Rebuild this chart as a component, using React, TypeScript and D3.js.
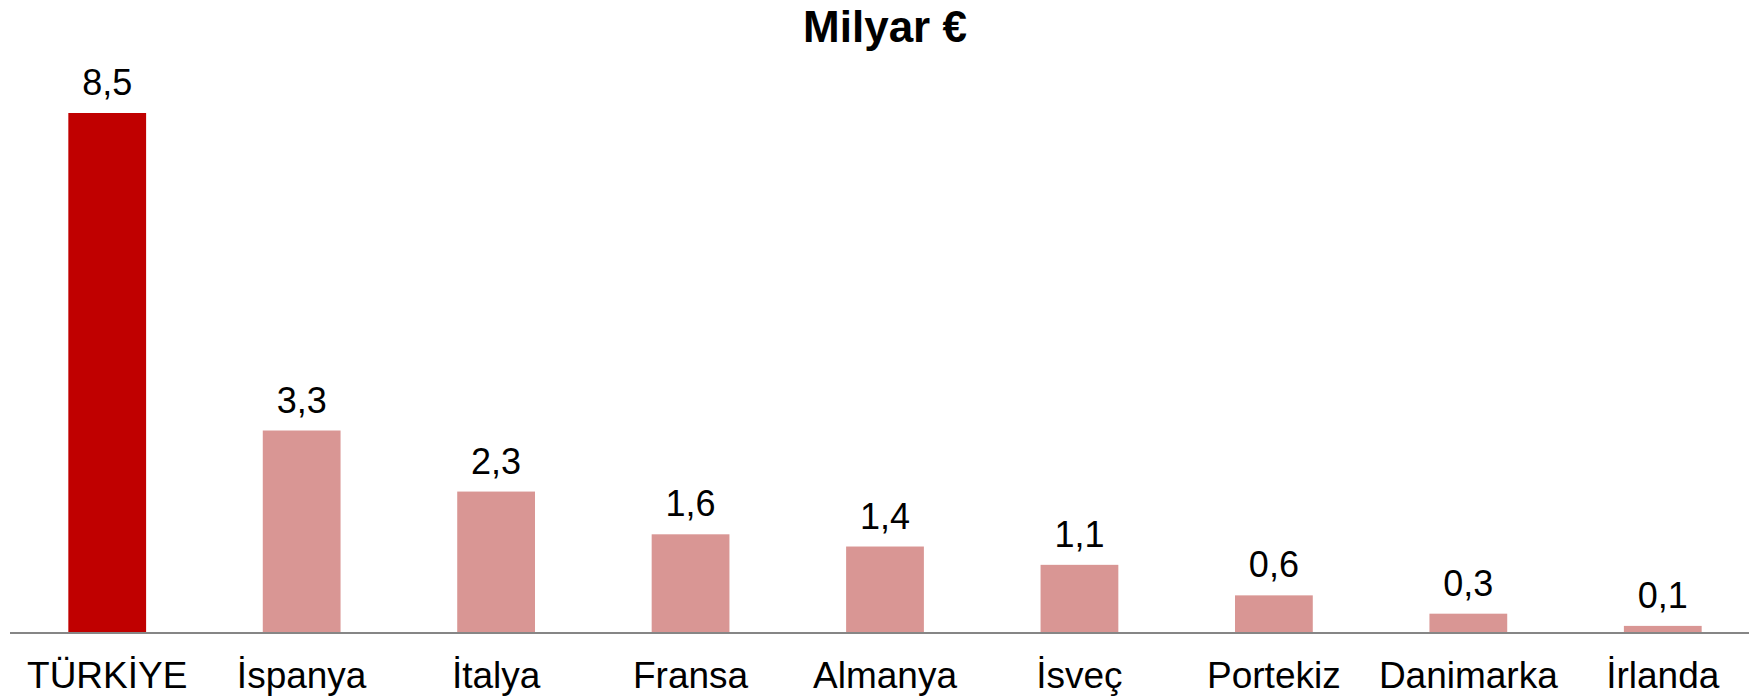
import React, { useEffect, useRef } from 'react';
import * as d3 from 'd3';

const categories = ['TÜRKİYE', 'İspanya', 'İtalya', 'Fransa', 'Almanya', 'İsveç', 'Portekiz', 'Danimarka', 'İrlanda'];
const values = [8.5, 3.3, 2.3, 1.6, 1.4, 1.1, 0.6, 0.3, 0.1];
const valueLabels = ['8,5', '3,3', '2,3', '1,6', '1,4', '1,1', '0,6', '0,3', '0,1'];
const title = 'Milyar €';

const App = () => {
    const ref = useRef<SVGSVGElement | null>(null);

    useEffect(() => {
        const width = 1749;
        const height = 698;
        const font = '"Liberation Sans", Arial, sans-serif';

        const svg = d3.select(ref.current);
        svg.selectAll('*').remove();
        svg.attr('width', width).attr('height', height);

        const baseY = 632;

        const x = d3.scaleBand<string>()
            .domain(categories)
            .range([10, 1760])
            .paddingInner(0.6)
            .paddingOuter(0.3);

        const y = d3.scaleLinear()
            .domain([0, 8.5])
            .range([baseY, 113]);

        const rows = categories.map((c, i) => ({ c, v: values[i], label: valueLabels[i], i }));

        svg.selectAll('.bar')
            .data(rows)
            .enter().append('rect')
            .attr('class', 'bar')
            .attr('x', d => x(d.c)!)
            .attr('y', d => y(d.v))
            .attr('width', x.bandwidth())
            .attr('height', d => y(0) - y(d.v))
            .attr('fill', d => d.i === 0 ? '#C00000' : '#D99694');

        // axis line along the bottom
        svg.append('line')
            .attr('x1', 10)
            .attr('x2', width)
            .attr('y1', y(0) + 1)
            .attr('y2', y(0) + 1)
            .attr('stroke', '#868686')
            .attr('stroke-width', 2);

        svg.selectAll('.val')
            .data(rows)
            .enter().append('text')
            .attr('class', 'val')
            .attr('x', d => x(d.c)! + x.bandwidth() / 2)
            .attr('y', d => y(d.v) - 18)
            .attr('text-anchor', 'middle')
            .style('font-family', font)
            .style('font-size', '36px')
            .attr('fill', '#000')
            .text(d => d.label);

        svg.selectAll('.cat')
            .data(rows)
            .enter().append('text')
            .attr('class', 'cat')
            .attr('x', d => x(d.c)! + x.bandwidth() / 2)
            .attr('y', 688)
            .attr('text-anchor', 'middle')
            .style('font-family', font)
            .style('font-size', '37px')
            .attr('fill', '#000')
            .text(d => d.c);

        svg.append('text')
            .attr('x', 885)
            .attr('y', 42)
            .attr('text-anchor', 'middle')
            .style('font-family', font)
            .style('font-size', '44px')
            .style('font-weight', 'bold')
            .attr('fill', '#000')
            .text(title);
    }, []);

    return (
        <svg ref={ref} style={{ position: 'absolute', left: 0, top: 0, display: 'block', background: '#fff' }} />
    );
};

export default App;
